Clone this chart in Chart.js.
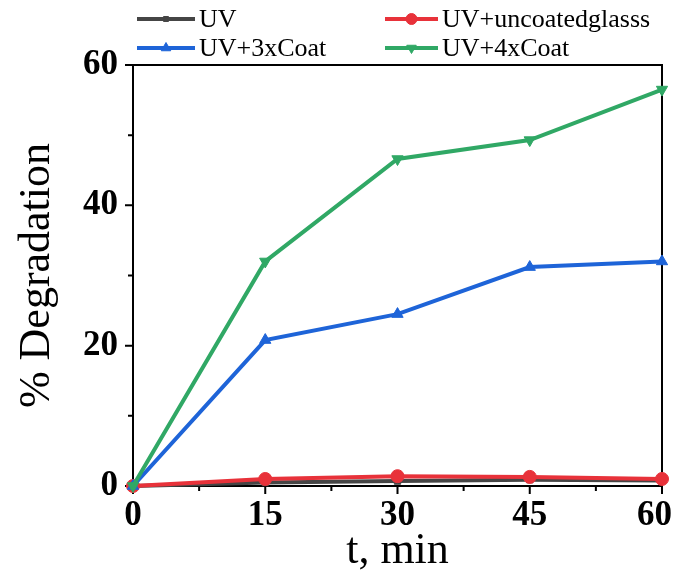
<!DOCTYPE html>
<html>
<head>
<meta charset="utf-8">
<title>% Degradation vs time</title>
<script src="https://cdn.jsdelivr.net/npm/chart.js@4.4.1/dist/chart.umd.min.js"></script>
<style>
  html, body { margin: 0; padding: 0; background: #fff; }
  #wrap { width: 676px; height: 576px; }
</style>
</head>
<body>
<div id="wrap"><canvas id="chart" width="676" height="576"></canvas></div>
<script>
// irradiation time (min)
const times = [0, 15, 30, 45, 60];

// % degradation per setup
const uvOnly = [0, 0.5, 0.7, 0.9, 0.8];
const uvUncoated = [0, 1.0, 1.4, 1.3, 1.0];
const uv3xCoat = [0, 20.8, 24.5, 31.2, 32.0];
const uv4xCoat = [0, 32.0, 46.6, 49.3, 56.5];

const seriesNames = ['UV', 'UV+uncoatedglasss', 'UV+3xCoat', 'UV+4xCoat'];

const xMajor = [0, 15, 30, 45, 60];
const xMinor = [7.5, 22.5, 37.5, 52.5];
const yMajor = [0, 20, 40, 60];
const yMinor = [10, 30, 50];

const FONT = "'Liberation Serif', 'Times New Roman', serif";

function toPoints(values) {
    return times.map((t, i) => ({ x: t, y: values[i] }));
}

function makeSeries(label, values, color, style, rotation, order) {
    return {
        label: label,
        data: toPoints(values),
        borderColor: color,
        backgroundColor: color,
        borderWidth: 4,
        pointStyle: style,
        pointRotation: rotation,
        pointRadius: style === 'rect' ? 4.5 : 6.5,
        pointBorderWidth: 1,
        tension: 0,
        clip: false,
        order: order
    };
}

// frame, outward ticks and the x tick labels (last one kept inside the canvas)
const axesFrame = {
    id: 'axesFrame',
    beforeDatasetsDraw(chart) {
        const { ctx, chartArea: a, scales } = chart;
        ctx.save();
        ctx.strokeStyle = '#000';
        ctx.lineWidth = 2;
        ctx.strokeRect(a.left, a.top, a.right - a.left, a.bottom - a.top);

        ctx.beginPath();
        xMajor.forEach(v => {
            const px = scales.x.getPixelForValue(v);
            ctx.moveTo(px, a.bottom); ctx.lineTo(px, a.bottom + 8);
        });
        xMinor.forEach(v => {
            const px = scales.x.getPixelForValue(v);
            ctx.moveTo(px, a.bottom); ctx.lineTo(px, a.bottom + 5);
        });
        yMajor.forEach(v => {
            const py = scales.y.getPixelForValue(v);
            ctx.moveTo(a.left, py); ctx.lineTo(a.left - 8, py);
        });
        yMinor.forEach(v => {
            const py = scales.y.getPixelForValue(v);
            ctx.moveTo(a.left, py); ctx.lineTo(a.left - 5, py);
        });
        ctx.stroke();

        ctx.fillStyle = '#000';
        ctx.font = 'bold 35px ' + FONT;
        ctx.textAlign = 'center';
        ctx.textBaseline = 'middle';
        xMajor.forEach(v => {
            const txt = String(v);
            const w = ctx.measureText(txt).width;
            const px = Math.min(scales.x.getPixelForValue(v), chart.width - 4 - w / 2);
            ctx.fillText(txt, px, a.bottom + 30);
        });
        ctx.restore();
    }
};

// two-column legend above the plot
const gridLegend = {
    id: 'gridLegend',
    afterDraw(chart) {
        const { ctx } = chart;
        const cols = [137, 385];
        const rows = [19, 48];
        const lineLen = [58, 53];
        ctx.save();
        ctx.font = '26px ' + FONT;
        ctx.textBaseline = 'middle';
        chart.data.datasets.forEach((ds, i) => {
            const c = i % 2, r = Math.floor(i / 2);
            const x0 = cols[c], y = rows[r], len = lineLen[c];
            ctx.strokeStyle = ds.borderColor;
            ctx.fillStyle = ds.backgroundColor;
            ctx.lineWidth = 4;
            ctx.beginPath();
            ctx.moveTo(x0, y); ctx.lineTo(x0 + len, y);
            ctx.stroke();
            ctx.lineWidth = 1;
            Chart.helpers.drawPoint(ctx, {
                pointStyle: ds.pointStyle,
                rotation: ds.pointRotation,
                radius: ds.pointRadius - 1,
                borderWidth: 1
            }, x0 + len / 2, y);
            ctx.fillStyle = '#000';
            ctx.fillText(ds.label, x0 + len + 4, y + 1);
        });
        ctx.restore();
    }
};

new Chart(document.getElementById('chart'), {
    type: 'line',
    data: {
        datasets: [
            makeSeries(seriesNames[0], uvOnly, '#454545', 'rect', 0, 4),
            makeSeries(seriesNames[1], uvUncoated, '#e8323a', 'circle', 0, 3),
            makeSeries(seriesNames[2], uv3xCoat, '#1e64d8', 'triangle', 0, 2),
            makeSeries(seriesNames[3], uv4xCoat, '#30a865', 'triangle', 180, 1)
        ]
    },
    options: {
        responsive: false,
        animation: false,
        devicePixelRatio: 1,
        layout: { padding: { top: 65, right: 14, left: 0, bottom: 0 } },
        plugins: {
            legend: { display: false },
            tooltip: { enabled: false }
        },
        scales: {
            x: {
                type: 'linear',
                min: 0,
                max: 60,
                afterFit(scale) {
                    scale.height = 90;
                    scale.paddingLeft = 0;
                    scale.paddingRight = 0;
                },
                grid: { display: false },
                border: { display: false },
                ticks: { display: false, stepSize: 15 },
                title: {
                    display: true,
                    text: 't, min',
                    color: '#000',
                    padding: { top: 0, bottom: 0 },
                    font: { family: FONT, size: 44, lineHeight: 1.1 }
                }
            },
            y: {
                min: 0,
                max: 60,
                afterFit(scale) {
                    scale.width = 133;
                    scale.paddingTop = 0;
                    scale.paddingBottom = 0;
                },
                grid: { display: true, drawOnChartArea: false, drawTicks: true, tickLength: 8, color: 'rgba(0,0,0,0)' },
                border: { display: false },
                ticks: {
                    stepSize: 20,
                    padding: 7,
                    color: '#000',
                    font: { family: FONT, size: 35, weight: 'bold' }
                },
                title: {
                    display: true,
                    text: '% Degradation',
                    color: '#000',
                    padding: { top: 13, bottom: 0 },
                    font: { family: FONT, size: 44, lineHeight: 1.1 }
                }
            }
        }
    },
    plugins: [axesFrame, gridLegend]
});
</script>
</body>
</html>
